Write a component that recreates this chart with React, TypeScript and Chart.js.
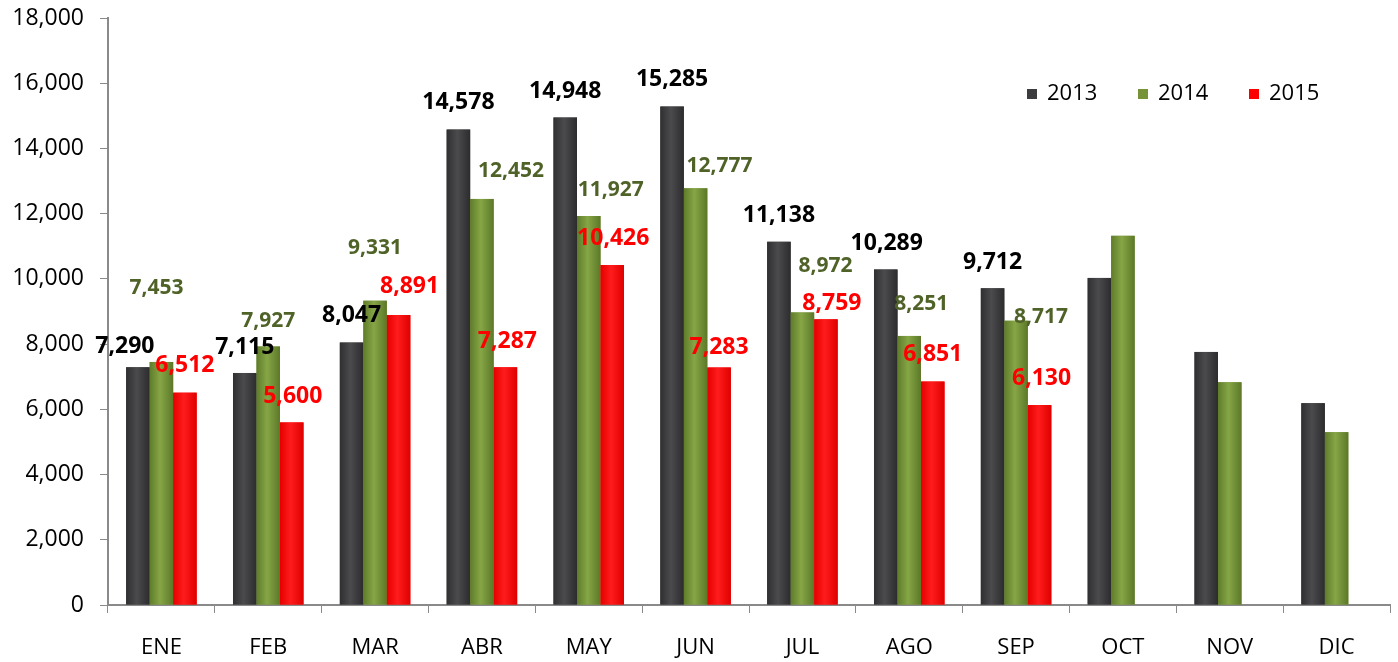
import React, { useEffect, useRef } from "react";
import { Chart, registerables } from "chart.js";

Chart.register(...registerables);

const months = ["ENE", "FEB", "MAR", "ABR", "MAY", "JUN", "JUL", "AGO", "SEP", "OCT", "NOV", "DIC"];
const series2013 = [7290, 7115, 8047, 14578, 14948, 15285, 11138, 10289, 9712, 10030, 7760, 6190];
const series2014 = [7453, 7927, 9331, 12452, 11927, 12777, 8972, 8251, 8717, 11320, 6830, 5300];
const series2015 = [6512, 5600, 8891, 7287, 10426, 7283, 8759, 6851, 6130, null, null, null];
const showLabel = [true, true, true, true, true, true, true, true, true, false, false, false];
const yTicks = [0, 2000, 4000, 6000, 8000, 10000, 12000, 14000, 16000, 18000];

// label offsets relative to the top-centre of each bar (pixels)
const offsets2013 = [[-13, -21], [0, -26], [0, -27], [0, -27], [0, -26], [0, -27], [0, -26], [1, -26], [0, -26]];
const offsets2014 = [[-5, -74], [0, -25], [0, -53], [29, -28], [22, -26], [24, -22], [23, -46], [12, -32], [25, -4]];
const offsets2015 = [[0, -27], [1, -26], [11, -29], [2, -26], [1, -27], [0, -20], [6, -16], [0, -27], [2, -27]];

const FONT = "'Open Sans', 'Liberation Sans', sans-serif";
const gradStops = [
  ["#2f2f31", "#4b4b4d", "#2c2c2e"],
  ["#5f7c2a", "#86a646", "#5c7828"],
  ["#e60000", "#ff1c1c", "#e00000"],
];

const fmt = (v: number) => v.toLocaleString("en-US");

const shadePlugin = {
  id: "barShade",
  afterDatasetsDraw(chart: any) {
    const ctx = chart.ctx;
    ctx.save();
    chart.data.datasets.forEach((ds: any, di: number) => {
      const meta = chart.getDatasetMeta(di);
      const st = gradStops[di];
      meta.data.forEach((el: any, i: number) => {
        if (ds.data[i] == null) return;
        const left = el.x - el.width / 2;
        const g = ctx.createLinearGradient(left, 0, left + el.width, 0);
        g.addColorStop(0, st[0]);
        g.addColorStop(0.45, st[1]);
        g.addColorStop(1, st[2]);
        ctx.fillStyle = g;
        ctx.fillRect(left, el.y, el.width, el.base - el.y);
      });
    });
    ctx.restore();
  },
};

const labelPlugin = {
  id: "barLabels",
  afterDatasetsDraw(chart: any) {
    const ctx = chart.ctx;
    const cfg = [
      { offs: offsets2013, color: "#000000", size: 23 },
      { offs: offsets2014, color: "#4f6228", size: 21 },
      { offs: offsets2015, color: "#ff0000", size: 23 },
    ];
    ctx.save();
    ctx.textAlign = "center";
    ctx.textBaseline = "middle";
    chart.data.datasets.forEach((ds: any, di: number) => {
      const meta = chart.getDatasetMeta(di);
      const c = cfg[di];
      ctx.fillStyle = c.color;
      ctx.font = `bold ${c.size}px ${FONT}`;
      meta.data.forEach((el: any, i: number) => {
        const v = ds.data[i];
        if (v == null || !showLabel[i]) return;
        const o = c.offs[i] || [0, -26];
        ctx.fillText(fmt(v), el.x + o[0], el.y + o[1]);
      });
    });
    ctx.restore();
  },
};

const legendPlugin = {
  id: "customLegend",
  afterDraw(chart: any) {
    const ctx = chart.ctx;
    const items = chart.data.datasets.map((d: any) => ({ label: d.label, color: d.backgroundColor }));
    let x = 1027;
    const y = 94;
    ctx.save();
    ctx.font = `22px ${FONT}`;
    ctx.textBaseline = "middle";
    ctx.textAlign = "left";
    items.forEach((it: any) => {
      ctx.fillStyle = it.color;
      ctx.fillRect(x, y - 5, 10, 10);
      ctx.fillStyle = "#000";
      ctx.fillText(it.label, x + 20, y);
      x += 111;
    });
    ctx.restore();
  },
};

export default function App() {
  const ref = useRef<HTMLCanvasElement>(null);
  useEffect(() => {
    document.body.style.margin = "0";
    const chart = new Chart(ref.current!, {
      type: "bar",
      data: {
        labels: months,
        datasets: [
          { label: "2013", data: series2013, backgroundColor: "#3c3c3e" },
          { label: "2014", data: series2014, backgroundColor: "#76933a" },
          { label: "2015", data: series2015 as any, backgroundColor: "#ff0000" },
        ],
      },
      options: {
        animation: false,
        responsive: false,
        maintainAspectRatio: false,
        layout: { padding: { top: 18, right: 8, left: 8, bottom: 0 } },
        datasets: { bar: { categoryPercentage: 0.66, barPercentage: 1, skipNull: false } },
        plugins: { legend: { display: false }, tooltip: { enabled: false } },
        scales: {
          x: {
            grid: { display: true, drawOnChartArea: false, offset: true, tickLength: 8, color: "#8a8a8a" },
            border: { color: "#8a8a8a", width: 2 },
            ticks: { color: "#000", font: { family: FONT, size: 22 }, padding: 22 },
            afterFit: (s: any) => { s.height = 57; s.paddingLeft = 0; s.paddingRight = 0; },
          },
          y: {
            min: 0,
            max: 18000,
            grid: { display: true, drawOnChartArea: false, tickLength: 8, color: "#8a8a8a" },
            border: { color: "#8a8a8a", width: 2 },
            afterBuildTicks: (s: any) => { s.ticks = yTicks.map((v) => ({ value: v })); },
            ticks: {
              color: "#000",
              font: { family: FONT, size: 23 },
              padding: 16,
              callback: (v: any) => fmt(Number(v)),
            },
            afterFit: (s: any) => { s.width = 100; s.paddingTop = 0; s.paddingBottom = 0; },
          },
        },
      },
      plugins: [shadePlugin, labelPlugin, legendPlugin],
    });
    return () => chart.destroy();
  }, []);
  return <canvas ref={ref} width={1398} height={662} style={{ display: "block" }} />;
}
